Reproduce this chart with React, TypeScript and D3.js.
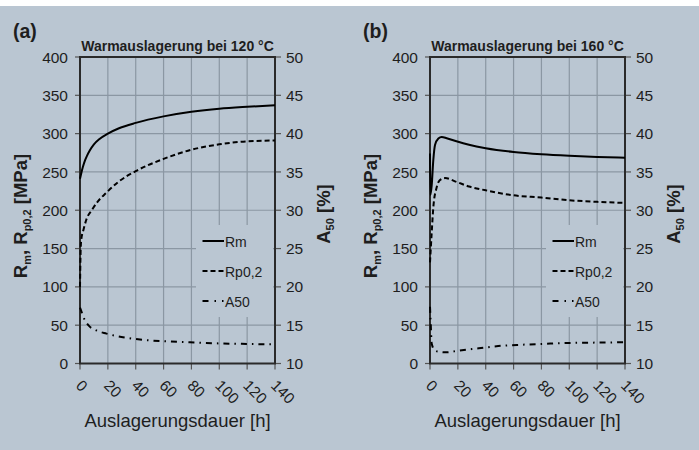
import React from 'react';
import * as d3 from 'd3';

// ---- axes ----
const xTicks = [0, 20, 40, 60, 80, 100, 120, 140];
const yLeftTicks = [0, 50, 100, 150, 200, 250, 300, 350, 400];
const yRightTicks = [10, 15, 20, 25, 30, 35, 40, 45, 50];

// ---- panel (a): 120 °C ----
const hoursRmA = [0, 1, 2, 3.6, 5, 7, 10, 14, 20, 28, 40, 60, 80, 100, 120, 140];
const rmA = [241, 249, 256, 265, 271, 278, 286, 293, 300, 307, 314, 322.5, 328.5, 332.5, 335, 337];
const hoursRpA = [0, 0.5, 1, 2.4, 4.8, 8.4, 13, 19, 27.5, 40, 60, 80, 100, 120, 140];
const rpA = [100, 150, 163, 174, 189, 200, 212, 223, 237, 251, 267, 279, 286, 290, 291];
const hoursA50A = [0, 1, 2.4, 6, 12, 19, 32, 47, 61, 79, 100, 120, 140];
const a50A = [17.3, 16.8, 16.1, 15.0, 14.3, 13.9, 13.4, 13.06, 12.9, 12.76, 12.62, 12.55, 12.5];

// ---- panel (b): 160 °C ----
const hoursRmB = [0, 0.3, 1.2, 2.4, 3.6, 6, 8.4, 12, 19, 28, 40, 60, 80, 100, 120, 140];
const rmB = [274, 220, 232, 266, 285, 293.5, 295.5, 294, 290, 285.5, 281, 276, 273, 271, 269.5, 268.6];
const hoursRpB = [0, 1.2, 2.4, 4.8, 7, 10.8, 19, 28, 40, 60, 80, 100, 120, 140];
const rpB = [132, 170, 204, 230, 239, 242, 237, 231, 226, 219.5, 216.5, 213, 211, 209.5];
const hoursA50B = [0, 0.5, 1.2, 3.6, 8, 12, 20, 35, 49, 66, 80, 100, 120, 140];
const a50B = [17.4, 15.3, 12.6, 11.67, 11.5, 11.46, 11.67, 11.98, 12.28, 12.45, 12.55, 12.68, 12.73, 12.78];

const legendNames = ['Rm', 'Rp0,2', 'A50'];

const BG = '#bac6d2';
const GRID = '#8b97a3';
const DARK = '#1e1e1e';
const FONT = '"Liberation Sans", Arial, sans-serif';

const zip = (a: number[], b: number[]) => a.map((v, i) => [v, b[i]] as [number, number]);

interface PanelProps {
  off: number;
  tag: string;
  title: string;
  rm: [number, number][];
  rp: [number, number][];
  a50: [number, number][];
}

function Panel({ off, tag, title, rm, rp, a50 }: PanelProps) {
  const left = 80 + off;
  const right = 275 + off;
  const top = 57;
  const bottom = 363.5;
  const x = d3.scaleLinear().domain([0, 140]).range([left, right]);
  const yL = d3.scaleLinear().domain([0, 400]).range([bottom, top]);
  const yR = d3.scaleLinear().domain([10, 50]).range([bottom, top]);
  const lineL = d3.line<[number, number]>().x(d => x(d[0])).y(d => yL(d[1])).curve(d3.curveMonotoneX);
  const lineR = d3.line<[number, number]>().x(d => x(d[0])).y(d => yR(d[1])).curve(d3.curveMonotoneX);

  const legX = left + 116;
  const legY = 225;
  const dashes = [undefined, '5,3', '6,5,1.5,5'];
  const legDashes = [undefined, '5,3', '6,6,1.5,6,1.5,20'];

  return (
    <g>
      {/* grid */}
      {yLeftTicks.slice(1, -1).map(t => (
        <line key={'gy' + t} x1={left} x2={right} y1={yL(t)} y2={yL(t)} stroke={GRID} strokeWidth={1.2} />
      ))}
      {xTicks.slice(1, -1).map(t => (
        <line key={'gx' + t} x1={x(t)} x2={x(t)} y1={top} y2={bottom} stroke={GRID} strokeWidth={1.2} />
      ))}
      {/* legend background covering grid */}
      <rect x={legX} y={legY} width={77} height={92} fill={BG} />
      {/* ticks */}
      {yLeftTicks.map(t => (
        <line key={'tl' + t} x1={left - 5} x2={left} y1={yL(t)} y2={yL(t)} stroke="#555" strokeWidth={1.2} />
      ))}
      {yRightTicks.map(t => (
        <line key={'tr' + t} x1={right} x2={right + 6} y1={yR(t)} y2={yR(t)} stroke="#555" strokeWidth={1.2} />
      ))}
      {xTicks.map(t => (
        <line key={'tx' + t} x1={x(t)} x2={x(t)} y1={bottom} y2={bottom + 6} stroke="#555" strokeWidth={1.2} />
      ))}
      {/* frame */}
      <rect x={left} y={top} width={right - left} height={bottom - top} fill="none" stroke="#2a2a2a" strokeWidth={2} />
      {/* curves */}
      <path d={lineL(rm) || ''} fill="none" stroke="#000" strokeWidth={2} />
      <path d={lineL(rp) || ''} fill="none" stroke="#000" strokeWidth={2} strokeDasharray={dashes[1]} />
      <path d={lineR(a50) || ''} fill="none" stroke="#000" strokeWidth={2} strokeDasharray={dashes[2]} />
      {/* legend */}
      {legendNames.map((n, i) => (
        <g key={n}>
          <line x1={legX + 6.5} x2={legX + 28} y1={legY + 16 + i * 30} y2={legY + 16 + i * 30}
            stroke="#000" strokeWidth={2} strokeDasharray={legDashes[i]} />
          <text x={legX + 29} y={legY + 22 + i * 30} fontFamily={FONT} fontSize={14} fill={DARK}>{n}</text>
        </g>
      ))}
      {/* tick labels */}
      {yLeftTicks.map(t => (
        <text key={'ll' + t} x={left - 12} y={yL(t)} dy="0.36em" textAnchor="end" fontFamily={FONT} fontSize={15.5} fill={DARK}>{t}</text>
      ))}
      {yRightTicks.map(t => (
        <text key={'rl' + t} x={right + 11} y={yR(t)} dy="0.36em" textAnchor="start" fontFamily={FONT} fontSize={15.5} fill={DARK}>{t}</text>
      ))}
      {xTicks.map(t => (
        <text key={'xl' + t} transform={`translate(${x(t) - 1},${bottom + 19}) rotate(45)`} dy="0.36em" textAnchor="start"
          fontFamily={FONT} fontSize={15.5} fill={DARK}>{t}</text>
      ))}
      {/* titles */}
      <text x={13 + off} y={37.5} fontFamily={FONT} fontSize={19.5} fontWeight="bold" fill={DARK}>{tag}</text>
      <text x={(left + right) / 2} y={50.5} textAnchor="middle" fontFamily={FONT} fontSize={14} fontWeight="bold" fill={DARK}>{title}</text>
      <text x={(left + right) / 2} y={427} textAnchor="middle" fontFamily={FONT} fontSize={18.5} fill={DARK}>Auslagerungsdauer [h]</text>
      <text transform={`translate(${27 + off},216) rotate(-90)`} textAnchor="middle" fontFamily={FONT} fontSize={18.5} fontWeight="bold" fill={DARK}>
        R<tspan fontSize={11} dy={4}>m</tspan><tspan dy={-4}>, R</tspan><tspan fontSize={11} dy={4}>p0,2</tspan><tspan dy={-4}> [MPa]</tspan>
      </text>
      <text transform={`translate(${329.5 + off},214) rotate(-90)`} textAnchor="middle" fontFamily={FONT} fontSize={18.5} fontWeight="bold" fill={DARK}>
        A<tspan fontSize={11} dy={4}>50</tspan><tspan dy={-4}> [%]</tspan>
      </text>
    </g>
  );
}

export default function App() {
  return (
    <svg width={699} height={450} style={{ position: 'absolute', left: 0, top: 0, display: 'block' }}>
      <rect x={0} y={0} width={699} height={450} fill="#fff" />
      <rect x={0} y={6} width={699} height={444} fill={BG} />
      <Panel off={0} tag="(a)" title="Warmauslagerung bei 120 °C"
        rm={zip(hoursRmA, rmA)} rp={zip(hoursRpA, rpA)} a50={zip(hoursA50A, a50A)} />
      <Panel off={350} tag="(b)" title="Warmauslagerung bei 160 °C"
        rm={zip(hoursRmB, rmB)} rp={zip(hoursRpB, rpB)} a50={zip(hoursA50B, a50B)} />
    </svg>
  );
}
